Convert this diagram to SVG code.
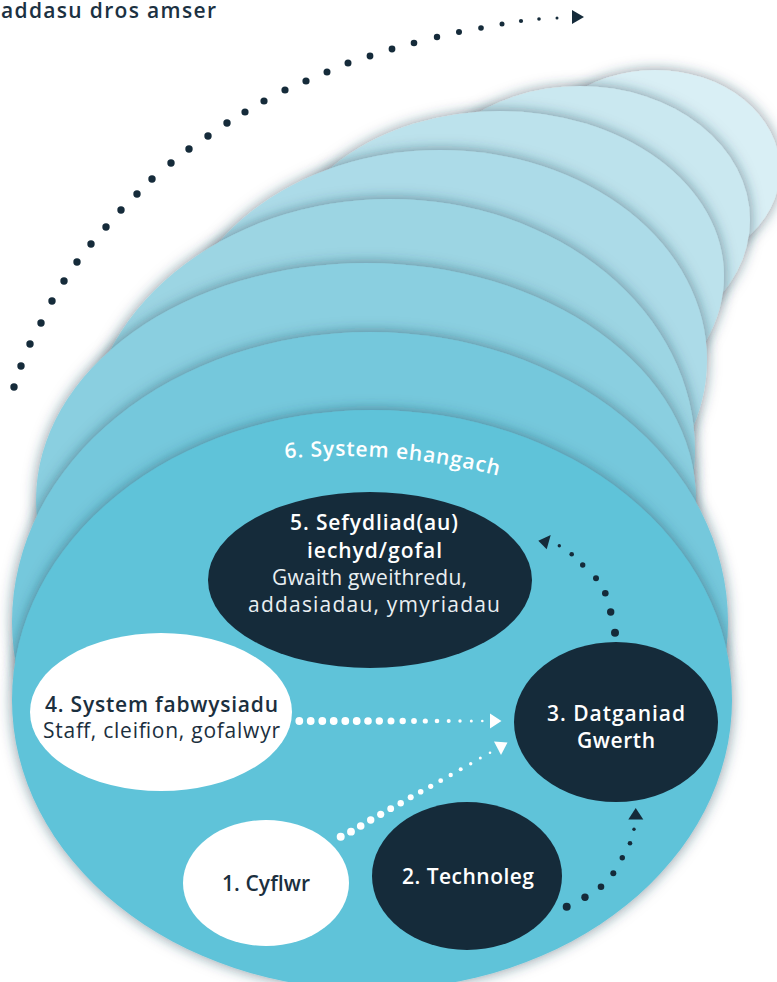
<svg xmlns="http://www.w3.org/2000/svg" width="777" height="982" viewBox="0 0 777 982">
<defs>
<style>
.t{font-family:"Open Sans","Liberation Sans",sans-serif;text-anchor:middle;font-size:21px}
.b{font-weight:600}
.r{font-weight:400}
.w{fill:#ffffff}
.wl{fill:#e9eff2}
.d{fill:#1b2f3e}
.navy{fill:#152b3a}
.wd{fill:#ffffff}
.dd{fill:#152b3a}
</style>
<filter id="sh" x="-15%" y="-15%" width="130%" height="130%">
<feGaussianBlur in="SourceAlpha" stdDeviation="7" result="bl"/>
<feFlood flood-color="#1d4152" flood-opacity="0.55"/>
<feComposite in2="bl" operator="in"/>
<feMerge><feMergeNode/><feMergeNode in="SourceGraphic"/></feMerge>
</filter>
<path id="arc6" d="M280,458.8 A650,650 0 0 1 520,481.4" fill="none"/>
</defs>
<rect width="777" height="982" fill="#ffffff"/>

<g id="layers">
<ellipse id="layer7" cx="655" cy="170" rx="125" ry="100" fill="#d9eff5" filter="url(#sh)"/>
<ellipse id="layer6" cx="580" cy="220" rx="170" ry="134" fill="#cae8f0" filter="url(#sh)"/>
<ellipse id="layer5" cx="500" cy="276" rx="224" ry="165" fill="#bce2ec" filter="url(#sh)"/>
<ellipse id="layer4" cx="440" cy="360" rx="267" ry="210" fill="#acdbe8" filter="url(#sh)"/>
<ellipse id="layer3" cx="390" cy="450" rx="305" ry="251" fill="#9cd5e3" filter="url(#sh)"/>
<ellipse id="layer2" cx="366" cy="500" rx="330" ry="237" fill="#8acfe0" filter="url(#sh)"/>
<ellipse id="layer1" cx="370" cy="622" rx="358" ry="290" fill="#75c8dc" filter="url(#sh)"/>
<ellipse id="layer0" cx="372" cy="700" rx="360" ry="290" fill="#5fc3d9" filter="url(#sh)"/>
</g>

<text class="t b" x="1" y="18" fill="#1b3142" style="text-anchor:start;font-size:21px" textLength="215" lengthAdjust="spacing">addasu dros amser</text>

<g id="node6">
<text class="t b w" style="text-anchor:start;font-size:21px"><textPath href="#arc6" startOffset="5" textLength="215" lengthAdjust="spacing">6. System ehangach</textPath></text>
</g>

<g id="node5">
<ellipse cx="370" cy="580" rx="162" ry="88" class="navy"/>
<text class="t b w" x="374" y="530" textLength="168" lengthAdjust="spacing">5. Sefydliad(au)</text>
<text class="t b w" x="374.5" y="558" textLength="135" lengthAdjust="spacing">iechyd/gofal</text>
<text class="t r wl" x="369.5" y="585" textLength="195" lengthAdjust="spacing">Gwaith gweithredu,</text>
<text class="t r wl" x="374" y="612" textLength="252" lengthAdjust="spacing">addasiadau, ymyriadau</text>
</g>

<g id="node4">
<ellipse cx="161" cy="712" rx="131" ry="79" fill="#ffffff"/>
<text class="t b d" x="161.5" y="712" textLength="233" lengthAdjust="spacing">4. System fabwysiadu</text>
<text class="t r d" x="161.5" y="738" textLength="237" lengthAdjust="spacing">Staff, cleifion, gofalwyr</text>
</g>

<g id="node3">
<ellipse cx="616" cy="722" rx="102" ry="80" class="navy"/>
<text class="t b w" x="616" y="721" textLength="138" lengthAdjust="spacing">3. Datganiad</text>
<text class="t b w" x="616" y="748" textLength="78" lengthAdjust="spacing">Gwerth</text>
</g>

<g id="node1">
<ellipse cx="266" cy="883" rx="83" ry="63" fill="#ffffff"/>
<text class="t b d" x="266" y="891" textLength="88" lengthAdjust="spacing">1. Cyflwr</text>
</g>

<g id="node2">
<ellipse cx="467" cy="876" rx="95" ry="74" class="navy"/>
<text class="t b w" x="468" y="884" textLength="132" lengthAdjust="spacing">2. Technoleg</text>
</g>

<g id="connectors">
<g id="c-time" class="dd">
<circle cx="14" cy="387" r="3.7"/><circle cx="21" cy="366" r="3.7"/><circle cx="30" cy="344" r="3.7"/><circle cx="41" cy="323" r="3.7"/>
<circle cx="52" cy="301" r="3.7"/><circle cx="64" cy="281" r="3.7"/><circle cx="77" cy="262" r="3.7"/><circle cx="91" cy="244" r="3.7"/>
<circle cx="106" cy="227" r="3.7"/><circle cx="121" cy="210" r="3.7"/><circle cx="137" cy="194" r="3.7"/><circle cx="152" cy="179" r="3.7"/>
<circle cx="171" cy="163" r="3.7"/><circle cx="189" cy="149" r="3.7"/><circle cx="208" cy="136" r="3.7"/><circle cx="227" cy="123" r="3.7"/>
<circle cx="245" cy="112" r="3.6"/><circle cx="264" cy="101" r="3.6"/><circle cx="285" cy="90" r="3.6"/><circle cx="306" cy="81" r="3.6"/>
<circle cx="327" cy="72" r="3.5"/><circle cx="348" cy="63" r="3.5"/><circle cx="370" cy="56" r="3.4"/><circle cx="392" cy="49" r="3.4"/>
<circle cx="414" cy="43" r="3.3"/><circle cx="437" cy="37" r="3.2"/><circle cx="459" cy="32" r="3.0"/><circle cx="481" cy="28" r="2.8"/>
<circle cx="502" cy="24" r="2.5"/><circle cx="521" cy="21" r="2.1"/><circle cx="539" cy="19" r="1.8"/><circle cx="557" cy="18" r="1.5"/>
<polygon points="572,10 584,17 572,24"/>
</g>
<g id="c-4-3" class="wd">
<circle cx="299.3" cy="721" r="3.9"/><circle cx="310.7" cy="721" r="3.9"/><circle cx="322.3" cy="721" r="3.9"/><circle cx="333.7" cy="721" r="3.9"/>
<circle cx="345.3" cy="721" r="3.9"/><circle cx="356.7" cy="721" r="3.9"/><circle cx="368" cy="721" r="3.8"/><circle cx="379.3" cy="721" r="3.7"/>
<circle cx="391" cy="721" r="3.5"/><circle cx="402.7" cy="721" r="3.2"/><circle cx="414" cy="721" r="2.9"/><circle cx="425.3" cy="721" r="2.6"/>
<circle cx="437" cy="721" r="2.3"/><circle cx="448.7" cy="721" r="2.0"/><circle cx="460" cy="721" r="1.7"/><circle cx="471.3" cy="721" r="1.5"/>
<circle cx="482.3" cy="721" r="1.3"/>
<polygon points="490,713.5 501.5,721 490,728.5"/>
</g>
<g id="c-1-3" class="wd">
<circle cx="340.7" cy="836.7" r="4"/><circle cx="351" cy="831.7" r="3.9"/><circle cx="360.7" cy="826" r="3.8"/><circle cx="370.7" cy="820" r="3.7"/>
<circle cx="380.7" cy="814.3" r="3.6"/><circle cx="390.7" cy="808.7" r="3.4"/><circle cx="400.7" cy="803.3" r="3.2"/><circle cx="410.7" cy="797.3" r="3.0"/>
<circle cx="420.7" cy="791.7" r="2.8"/><circle cx="430.7" cy="786.3" r="2.6"/><circle cx="440.7" cy="780.7" r="2.4"/><circle cx="450.7" cy="775" r="2.2"/>
<circle cx="460.7" cy="769.3" r="2.0"/><circle cx="470.7" cy="763.7" r="1.7"/><circle cx="480.3" cy="758" r="1.5"/><circle cx="490" cy="752.7" r="1.3"/>
<polygon points="494,741.5 507.5,742.5 501,755"/>
</g>
<g id="c-2-3" class="dd">
<circle cx="566.7" cy="906.7" r="4"/><circle cx="585" cy="897.3" r="3.7"/><circle cx="601" cy="886.7" r="3.3"/><circle cx="613.3" cy="873.3" r="3"/>
<circle cx="622.3" cy="857.7" r="2.7"/><circle cx="630" cy="843.3" r="2.3"/><circle cx="634" cy="829.3" r="1.7"/>
<polygon points="635.7,808 628.3,819.5 643.3,819.5"/>
</g>
<g id="c-3-5" class="dd">
<circle cx="615" cy="632.7" r="4"/><circle cx="610.7" cy="612" r="3.7"/><circle cx="605.3" cy="593.3" r="3.3"/><circle cx="596" cy="578.3" r="3"/>
<circle cx="582.7" cy="565" r="2.7"/><circle cx="571.7" cy="554.3" r="2.3"/><circle cx="559.3" cy="545.7" r="1.7"/>
<polygon points="538.3,540.7 550.7,535 546.7,549.3"/>
</g>
</g>
</svg>
